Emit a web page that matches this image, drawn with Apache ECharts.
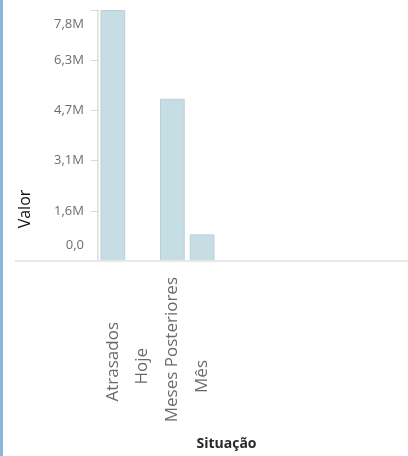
<!DOCTYPE html>
<html>
<head>
<meta charset="utf-8">
<script src="https://cdn.jsdelivr.net/npm/echarts@6/dist/echarts.min.js"></script>
<style>
html,body{margin:0;padding:0;background:#fff;}
#c{width:408px;height:456px;position:relative;}
#edge{position:absolute;left:0;top:0;width:3px;height:456px;background:#8cb8d8;z-index:5;}
</style>
</head>
<body>
<div id="edge"></div>
<div id="c"></div>
<script>
// ---- data ----
const categories = ['Atrasados', 'Hoje', 'Meses Posteriores', 'Mês'];
const values = [7830000, 0, 5060000, 830000];
const yMin = 0;
const yMax = 7830000;
const yStep = 1566000;
const xAxisTitle = 'Situação';
const yAxisTitle = 'Valor';

// per-label offsets along the rotated text (layout only)
const labelShift = [53, 79, 8, 91];

const rich = {};
categories.forEach((c, i) => { rich['c' + i] = { padding: [0, labelShift[i], 0, 0], fontSize: 17, color: '#6a6a6a', fontFamily: 'Open Sans' }; });
rich.lo = { padding: [0, 0, 31, 0], fontSize: 13, color: '#6e6e6e', fontFamily: 'Open Sans' };
rich.hi = { padding: [29, 0, 0, 0], fontSize: 13, color: '#6e6e6e', fontFamily: 'Open Sans' };
rich.mid = { fontSize: 13, color: '#6e6e6e', fontFamily: 'Open Sans' };

function fmtY(v) {
  const s = v === 0 ? '0,0' : (v / 1e6).toFixed(1).replace('.', ',') + 'M';
  if (Math.abs(v - yMin) < 1) return '{lo|' + s + '}';
  if (Math.abs(v - yMax) < 1) return '{hi|' + s + '}';
  return '{mid|' + s + '}';
}

const chart = echarts.init(document.getElementById('c'), null, { renderer: 'canvas' });
const option = {
  animation: false,
  textStyle: { fontFamily: 'Open Sans' },
  grid: { left: 98, right: 191, top: 10, bottom: 191, containLabel: false },
  xAxis: {
    type: 'category',
    data: categories,
    name: xAxisTitle,
    nameLocation: 'middle',
    nameGap: 176,
    nameTextStyle: { fontSize: 14, fontWeight: 'bold', color: '#2a2a2a', fontFamily: 'Open Sans', padding: [0, 0, 0, 138] },
    axisLine: { show: false },
    axisTick: { show: false },
    axisLabel: {
      rotate: 90,
      interval: 0,
      margin: 8,
      formatter: function (v) { return '{c' + categories.indexOf(v) + '|' + v + '}'; },
      rich: rich
    }
  },
  yAxis: {
    type: 'value',
    min: yMin,
    max: yMax,
    interval: yStep,
    name: yAxisTitle,
    nameLocation: 'middle',
    nameGap: 65,
    nameTextStyle: { fontSize: 16, color: '#111', fontFamily: 'Open Sans', padding: [0, 147, 0, 0] },
    axisLine: { show: true, lineStyle: { color: '#e6e6e6', width: 2 } },
    axisTick: { show: true, length: 7, lineStyle: { color: '#d8d8d8', width: 1 } },
    splitLine: { show: false },
    axisLabel: { margin: 14, formatter: fmtY, rich: rich }
  },
  series: [{
    type: 'bar',
    data: values,
    barWidth: '83%',
    itemStyle: { color: '#c6dee3', borderColor: '#b3d1d7', borderWidth: 1 }
  }]
};
chart.setOption(option);
const y0 = chart.convertToPixel({ yAxisIndex: 0 }, 0);
chart.setOption({
  graphic: [{
    type: 'line',
    shape: { x1: 15, y1: y0, x2: 408, y2: y0 },
    style: { stroke: '#e8e8e8', lineWidth: 2 },
    z: 10
  }]
});
</script>
</body>
</html>
